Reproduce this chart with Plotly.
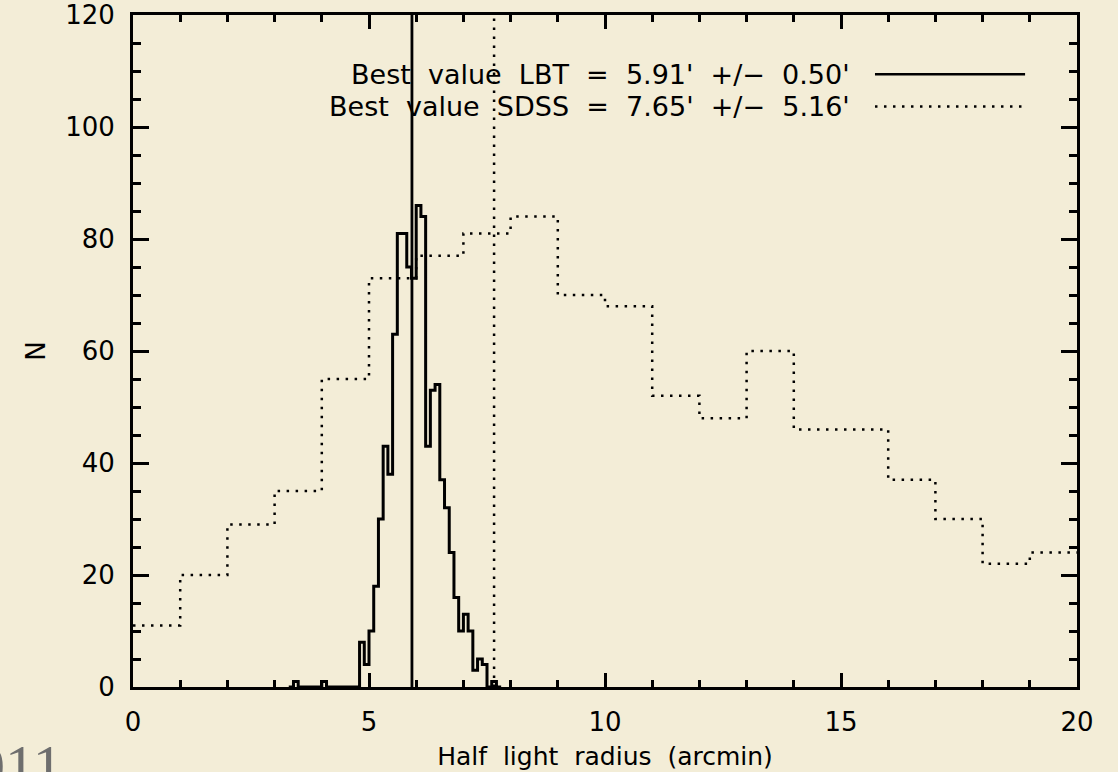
import numpy as np
import plotly.graph_objects as go

# ---------------- data ----------------
# LBT histogram: bins of width 0.1 arcmin starting at 3.3
lbt_bin_start = 3.3
lbt_bin_width = 0.1
lbt_counts = [0, 1, 0, 0, 0, 0, 0, 1, 0, 0, 0, 0, 0, 0, 0,
              8, 4, 10, 18, 30, 43, 38, 63, 81, 81, 75, 73, 86, 84,
              43, 53, 54, 37, 32, 24, 16, 10, 13, 10, 3, 5, 4, 0, 1, 0]

# SDSS histogram: bins of width 1 arcmin starting at 0
sdss_bin_start = 0.0
sdss_bin_width = 1.0
sdss_counts = [11, 20, 29, 35, 55, 73, 77, 81, 84, 70,
               68, 52, 48, 60, 46, 46, 37, 30, 22, 24]

best_lbt = 5.91
err_lbt = 0.50
best_sdss = 7.65
err_sdss = 5.16

x_range = [0, 20]
y_range = [0, 120]

# ---------------- style ----------------
BG = "rgb(243,237,215)"
FONT = "DejaVu Sans"
NB = "\u00a0"
DOT = "2.5px,6.5px"


def edges(start, width, n):
    return [round(start + width * i, 4) for i in range(n + 1)]


def step_xy(start, width, counts, close=True):
    e = edges(start, width, len(counts))
    if close:
        xs = [e[0]] + e[:-1] + [e[-1]]
        ys = [0] + list(counts) + [0]
    else:
        xs = e[:-1] + [e[-1]]
        ys = list(counts) + [counts[-1]]
    return xs, ys


fig = go.Figure()

sx, sy = step_xy(sdss_bin_start, sdss_bin_width, sdss_counts, close=False)
fig.add_trace(go.Scatter(x=sx, y=sy, mode="lines", line_shape="hv",
                         line=dict(color="black", width=2.5, dash=DOT),
                         showlegend=False, hoverinfo="skip"))

lx, ly = step_xy(lbt_bin_start, lbt_bin_width, lbt_counts, close=True)
fig.add_trace(go.Scatter(x=lx, y=ly, mode="lines", line_shape="hv",
                         line=dict(color="black", width=3),
                         showlegend=False, hoverinfo="skip"))

# best value vertical lines
fig.add_trace(go.Scatter(x=[best_lbt, best_lbt], y=y_range, mode="lines",
                         line=dict(color="black", width=2.8),
                         showlegend=False, hoverinfo="skip"))
fig.add_trace(go.Scatter(x=[best_sdss, best_sdss], y=y_range, mode="lines",
                         line=dict(color="black", width=2.5, dash=DOT),
                         showlegend=False, hoverinfo="skip"))

# legend (text on the left, line sample on the right)
lbl_lbt = f"Best value LBT = {best_lbt:.2f}' +/− {err_lbt:.2f}'".replace(" ", NB * 2)
lbl_sdss = f"Best value SDSS = {best_sdss:.2f}' +/− {err_sdss:.2f}'".replace(" ", NB * 2)

rows = [(lbl_lbt, 0.912, None), (lbl_sdss, 0.864, DOT)]
for text, yy, dash in rows:
    fig.add_annotation(text=text, xref="x domain", yref="y domain",
                       x=0.762, y=yy, xanchor="right", yanchor="middle",
                       showarrow=False, font=dict(family=FONT, size=27, color="black"))
    fig.add_shape(type="line", xref="x domain", yref="y domain",
                  x0=0.786, x1=0.945, y0=yy, y1=yy,
                  line=dict(color="black", width=2.5, dash=dash if dash else "solid"))

# slide footer remnant (partly outside the window, as in the reference)
fig.add_annotation(text="2011", xref="paper", yref="paper", x=-0.072, y=-0.117,
                   xanchor="right", yanchor="middle", showarrow=False,
                   font=dict(family="Liberation Serif", size=60, color="rgb(110,110,110)"))

axis_common = dict(
    showline=True, linewidth=3, linecolor="black", mirror="ticks",
    ticks="inside", tickcolor="black", tickwidth=3,
    showgrid=False, zeroline=False, automargin=False,
    tickfont=dict(family=FONT, size=26, color="black"),
)

fig.update_xaxes(range=x_range, tick0=0, dtick=5, ticklen=14,
                 minor=dict(dtick=1, ticklen=7, tickwidth=2.5, ticks="inside",
                            tickcolor="black", showgrid=False),
                 ticklabelstandoff=10,
                 title=dict(text="Half light radius (arcmin)".replace(" ", NB * 2),
                            font=dict(family=FONT, size=25, color="black"), standoff=12),
                 **axis_common)
fig.update_yaxes(range=y_range, tick0=0, dtick=20, ticklen=16,
                 minor=dict(dtick=5, ticklen=8, tickwidth=2.5, ticks="inside",
                            tickcolor="black", showgrid=False),
                 ticklabelstandoff=10,
                 title=dict(text="N", font=dict(family=FONT, size=26, color="black"),
                            standoff=13),
                 **axis_common)

fig.update_layout(
    width=1118, height=772,
    margin=dict(l=133, r=41, t=15, b=85),
    paper_bgcolor=BG, plot_bgcolor=BG,
    showlegend=False,
)

fig.write_html("out.html")
